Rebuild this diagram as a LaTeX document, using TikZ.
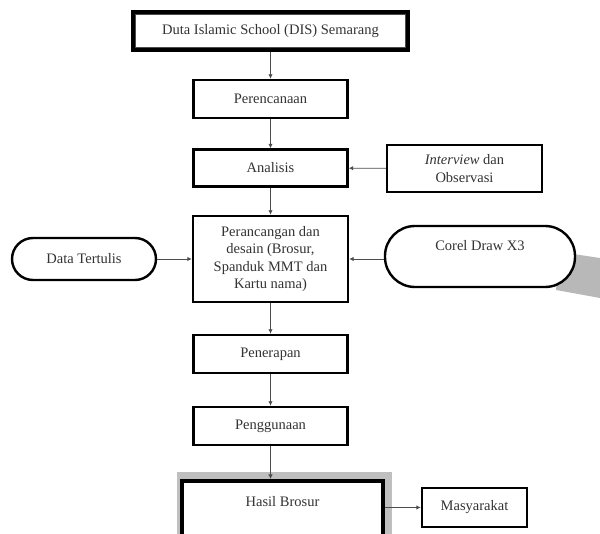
\documentclass[tikz,border=0pt]{standalone}
\usepackage{fontspec}
\setmainfont{Liberation Serif}
\usetikzlibrary{arrows.meta,calc}
\begin{document}
\begin{tikzpicture}[x=1pt,y=-1pt,
  every node/.style={font=\fontsize{14.5}{17.5}\selectfont, text=black!80},
  box/.style={draw=black, line width=2.4pt, fill=white, align=center, inner sep=3pt},
  pill/.style={draw=black, line width=2.4pt, fill=white, align=center, rounded corners=#1},
  conn/.style={draw=black!70, line width=0.9pt, -{Latex[length=4.5pt,width=4.5pt]}}
]
\useasboundingbox (0,0) rectangle (600,534);
% shadows
\fill[black!25] (177,472) rectangle (392,545);
\fill[black!28] (560,252) -- (600,258) -- (600,298) -- (556,290) -- cycle;

\node[box, line width=3.6pt, minimum width=275, minimum height=38] (dis) at (270.5,31) {Duta Islamic School (DIS) Semarang};
\draw[black!70, line width=0.8pt] ($(dis.south west)+(4.5,-4.5)$) rectangle ($(dis.north east)+(-4.5,4.5)$);

\node[box, minimum width=154, minimum height=38] (ren) at (270.5,99) {Perencanaan};
\node[box, minimum width=154, minimum height=37] (ana) at (270.5,168) {Analisis};
\node[box, minimum width=155, minimum height=47] (int) at (464.5,168.5) {\textit{Interview} dan\\Observasi};
\node[box, minimum width=155, minimum height=86] (ran) at (270.5,259) {Perancangan dan\\desain (Brosur,\\Spanduk MMT dan\\Kartu nama)};
\node[pill=21pt, minimum width=144, minimum height=42] (data) at (84,259) {Data Tertulis};
\node[pill=30pt, minimum width=190, minimum height=61] (corel) at (480,256.5) {Corel Draw X3\\\strut};
\node[box, minimum width=154, minimum height=38] (pen) at (270.5,354) {Penerapan};
\node[box, minimum width=154, minimum height=38] (gun) at (270.5,426) {Penggunaan};
\node[box, line width=4pt, minimum width=201, text height=22pt, text depth=40pt, inner sep=4pt, anchor=north] (has) at (282.5,479) {Hasil Brosur};
\node[box, minimum width=105, minimum height=39] (mas) at (474.5,507.5) {Masyarakat};

\draw[conn] (dis.south -| ren.north) -- (ren.north);
\draw[conn] (ren) -- (ana);
\draw[conn] (int) -- (ana);
\draw[conn] (ana) -- (ran);
\draw[conn] (data.east) -- (data.east -| ran.west);
\draw[conn] (corel.west |- data.east) -- (data.east -| ran.east);
\draw[conn] (ran) -- (pen);
\draw[conn] (pen) -- (gun);
\draw[conn] (gun.south) -- (gun.south |- has.north);
\draw[conn] (has.east |- mas.west) -- (mas.west);
\end{tikzpicture}
\end{document}
